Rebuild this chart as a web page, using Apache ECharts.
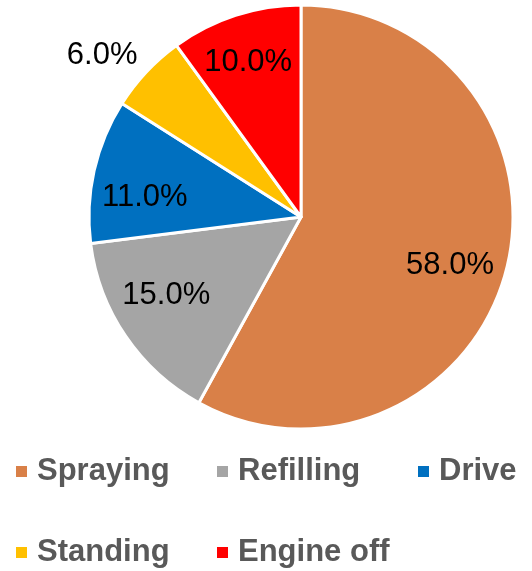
<!DOCTYPE html>
<html>
<head>
<meta charset="utf-8">
<script src="https://cdn.jsdelivr.net/npm/echarts@6/dist/echarts.min.js"></script>
<style>
  html, body { margin: 0; padding: 0; background: #fff; }
  #main { width: 532px; height: 571px; }
</style>
</head>
<body>
<div id="main"></div>
<script>
var categories = ['Spraying', 'Refilling', 'Drive', 'Standing', 'Engine off'];
var values = [58.0, 15.0, 11.0, 6.0, 10.0];
var colors = ['#D98048', '#A5A5A5', '#0070C0', '#FFC000', '#FF0000'];
// labels drawn outside the slice
var outsideLabels = ['Standing'];

var chart = echarts.init(document.getElementById('main'));
var center = [301, 217];
var fmt = function (p) { return p.value.toFixed(1) + '%'; };
var labelFont = { color: '#000', fontFamily: 'Liberation Sans, Arial, sans-serif', fontSize: 31 };

// small nudges so labels sit where excel put them
var nudge = [[-4, 9], [-4, -10], [-2, 15], [-10, 16], [-4, -4]];
var nudgeLayout = function (p) {
  return { dx: nudge[p.dataIndex][0], dy: nudge[p.dataIndex][1] };
};

var legendWidths = { 'Drive': 80, 'Engine off': 150 };

chart.setOption({
  animation: false,
  legend: {
    left: 9,
    top: 426,
    width: 515,
    itemWidth: 13,
    itemHeight: 13,
    itemGap: 0,
    icon: 'rect',
    selectedMode: false,
    data: categories.map(function (c, i) {
      return {
        name: c,
        itemStyle: { color: colors[i] },
        textStyle: { width: legendWidths[c] || 178 }
      };
    }),
    textStyle: {
      color: '#595959',
      fontFamily: 'Liberation Sans, Arial, sans-serif',
      fontWeight: 'bold',
      fontSize: 31,
      lineHeight: 81,
      padding: [0, 0, 0, 4]
    }
  },
  series: [
    {
      type: 'pie',
      center: center,
      radius: [0, 212],
      startAngle: 90,
      silent: true,
      label: { show: false },
      labelLine: { show: false },
      itemStyle: { borderColor: '#fff', borderWidth: 3 },
      data: categories.map(function (c, i) {
        return { name: c, value: values[i], itemStyle: { color: colors[i] } };
      })
    },
    {
      // label ring for inside labels
      type: 'pie',
      center: center,
      radius: [98, 212],
      startAngle: 90,
      silent: true,
      labelLine: { show: false },
      itemStyle: { color: 'rgba(0,0,0,0)' },
      label: Object.assign({ show: true, position: 'inside', formatter: fmt }, labelFont),
      labelLayout: nudgeLayout,
      data: categories.map(function (c, i) {
        return {
          name: c, value: values[i],
          label: { show: outsideLabels.indexOf(c) < 0 }
        };
      })
    },
    {
      // label ring for outside labels
      type: 'pie',
      center: center,
      radius: [240, 272],
      startAngle: 90,
      silent: true,
      labelLine: { show: false },
      itemStyle: { color: 'rgba(0,0,0,0)' },
      label: Object.assign({ show: true, position: 'inside', formatter: fmt }, labelFont),
      labelLayout: nudgeLayout,
      data: categories.map(function (c, i) {
        return {
          name: c, value: values[i],
          label: { show: outsideLabels.indexOf(c) >= 0 }
        };
      })
    }
  ]
});
</script>
</body>
</html>
